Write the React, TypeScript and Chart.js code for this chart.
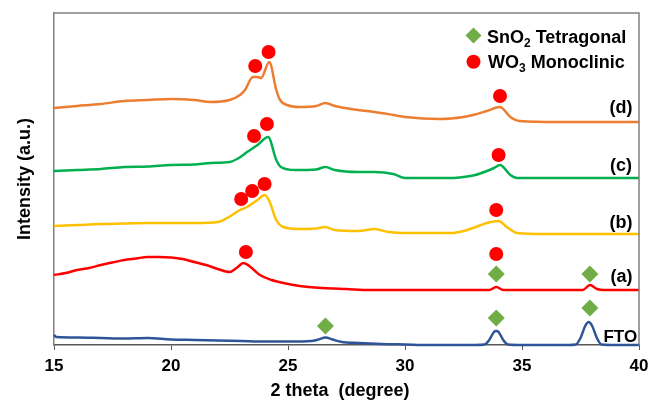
import { useEffect, useRef } from "react";
import { Chart, registerables } from "chart.js";

Chart.register(...registerables);

const FONT = '"Liberation Sans", Arial, sans-serif';

// X axis ticks (2 theta, degree)
const xTicks = [15, 20, 25, 30, 35, 40];

// FTO substrate (blue)
const ftoX = [15, 15.1, 16, 17, 18, 19, 20, 21, 22, 23, 24, 25, 26, 26.3, 26.6, 26.9, 27.3, 28, 29, 30, 31, 33, 33.4, 33.6, 33.8, 33.9, 34.0, 34.2, 34.4, 35, 37, 37.3, 37.5, 37.7, 37.85, 38.0, 38.2, 38.4, 39, 40];
const ftoY = [10, 8, 7.5, 7, 6.5, 7, 5.5, 5, 4.5, 4, 3.5, 3.5, 4, 5.5, 7.5, 5.5, 3, 2, 1, 0.5, 0, 0, 0.5, 5, 13, 14, 13, 5, 0.5, 0, 0, 0.5, 7, 19, 23, 19, 7, 0.5, 0, 0];

// (a) red
const aX = [15, 15.5, 16, 16.5, 17, 17.5, 18, 18.5, 19, 19.5, 20, 20.5, 21, 21.5, 22, 22.5, 22.8, 23.1, 23.4, 23.8, 24.3, 24.8, 25.5, 26.5, 27.5, 28.5, 33.6, 33.9, 34.2, 37.6, 37.9, 38.2, 38.5, 40];
const aY = [70, 72, 75, 77, 80, 82.5, 85, 86.5, 88, 88, 87.5, 86, 83, 80, 76, 73, 77, 82, 78, 70, 65, 62, 59, 57, 56, 55, 55, 58, 55, 55, 60, 56, 55, 55];

// (b) yellow
const bX = [15, 16, 17, 18, 19, 20, 21, 22, 22.4, 22.95, 23.25, 23.7, 24.0, 24.2, 24.5, 24.8, 25.5, 26.2, 26.6, 27, 28, 28.7, 29.3, 30, 32, 32.5, 32.9, 33.5, 34.0, 34.35, 34.8, 36, 40];
const bY = [119, 120, 121, 121.5, 122, 122, 122, 123, 127, 135, 138, 145, 150, 144, 125, 118, 116, 116.5, 118, 115, 114, 116, 113, 112, 112, 114, 117, 122, 124, 118, 112, 111, 111];

// (c) green
const cX = [15, 16, 17, 18, 19, 20, 21, 21.7, 22.5, 22.9, 23.25, 23.7, 24.15, 24.5, 24.7, 25.3, 26.2, 26.6, 27, 28, 28.7, 29.5, 30, 32, 32.5, 33, 33.5, 33.8, 34.06, 34.5, 34.8, 40];
const cY = [174, 175, 176, 178, 178.5, 180, 180.5, 182, 183, 187, 193, 200, 208, 185, 178, 175, 175.5, 178, 175, 173, 173, 171, 167, 167, 168, 170, 174, 177, 180, 170, 167, 167];

// (d) orange
const dX = [15, 16, 17, 18, 19, 20, 21, 21.7, 22.5, 22.95, 23.16, 23.5, 23.7, 23.85, 24.2, 24.5, 24.66, 24.96, 25.5, 26.2, 26.6, 27, 28, 28.7, 29.5, 30, 31.5, 32.5, 32.9, 33.5, 34.06, 34.5, 34.9, 36.6, 40];
const dY = [237, 239, 241, 244, 245, 246, 245, 243, 245, 250, 255, 268, 268, 267, 283, 255, 245, 240, 238, 239, 242, 239, 235, 233, 230, 228, 226, 228, 230, 234, 238, 228, 224, 223, 223];

// Phase markers
const wo3X = [24.17, 23.6, 34.06, 24.1, 23.55, 34.0, 23.0, 23.47, 24.0, 33.9, 23.2, 33.9];
const wo3Y = [293, 279, 249, 221, 209, 190, 146, 154, 161, 135, 93, 91];
const sno2X = [26.6, 33.9, 37.9, 33.9, 37.9];
const sno2Y = [19, 27, 37, 71, 71];

// Curve labels
const labelTexts = ["(d)", "(c)", "(b)", "(a)", "FTO"];
const labelX = [39.23, 39.23, 39.23, 39.25, 39.2];
const labelY = [237, 179, 122, 67.5, 7.5];

const pts = (xs: number[], ys: number[]) => xs.map((x, i) => ({ x, y: ys[i] }));

const overlay = {
  id: "overlay",
  afterDraw(chart: any) {
    const { ctx, chartArea: a, scales } = chart;
    const xs = scales.x;
    const ys = scales.y;
    ctx.save();
    // top & right frame
    ctx.strokeStyle = "#808080";
    ctx.lineWidth = 1.5;
    ctx.beginPath();
    ctx.moveTo(a.left, a.top);
    ctx.lineTo(a.right, a.top);
    ctx.lineTo(a.right, a.bottom);
    ctx.stroke();

    ctx.fillStyle = "#000";
    // curve labels
    ctx.textAlign = "center";
    ctx.textBaseline = "middle";
    labelTexts.forEach((t, i) => {
      ctx.font = t === "FTO" ? `bold 17px ${FONT}` : `bold 18px ${FONT}`;
      ctx.fillText(t, xs.getPixelForValue(labelX[i]), ys.getPixelForValue(labelY[i]));
    });

    // axis titles
    ctx.font = `bold 18px ${FONT}`;
    ctx.textBaseline = "alphabetic";
    ctx.textAlign = "center";
    ctx.fillText("2 theta  (degree)", 340, 396);
    ctx.save();
    ctx.translate(29.5, (a.top + a.bottom) / 2);
    ctx.rotate(-Math.PI / 2);
    ctx.fillText("Intensity (a.u.)", 0, 0);
    ctx.restore();

    // legend
    ctx.fillStyle = "#70AD47";
    ctx.beginPath();
    ctx.moveTo(473.5 - 8, 35.5);
    ctx.lineTo(473.5, 27.5);
    ctx.lineTo(473.5 + 8, 35.5);
    ctx.lineTo(473.5, 43.5);
    ctx.closePath();
    ctx.fill();
    ctx.fillStyle = "#FF0000";
    ctx.beginPath();
    ctx.arc(473.5, 61.7, 7, 0, Math.PI * 2);
    ctx.fill();

    ctx.fillStyle = "#000";
    ctx.textAlign = "left";
    const drawSub = (main: string, sub: string, rest: string, x: number, y: number) => {
      ctx.font = `bold 18px ${FONT}`;
      ctx.fillText(main, x, y);
      let cx = x + ctx.measureText(main).width;
      ctx.font = `bold 12px ${FONT}`;
      ctx.fillText(sub, cx, y + 3.5);
      cx += ctx.measureText(sub).width;
      ctx.font = `bold 18px ${FONT}`;
      ctx.fillText(rest, cx, y);
    };
    drawSub("SnO", "2", " Tetragonal", 487, 43.3);
    drawSub("WO", "3", " Monoclinic", 488, 68.3);
    ctx.restore();
  },
};

export default function App() {
  const ref = useRef<HTMLCanvasElement>(null);
  useEffect(() => {
    if (!ref.current) return;
    const line = (xs: number[], ys: number[], color: string) => ({
      type: "line" as const,
      data: pts(xs, ys),
      borderColor: color,
      backgroundColor: color,
      borderWidth: 2.5,
      pointRadius: 0,
      showLine: true,
      cubicInterpolationMode: "monotone" as const,
      clip: false as any,
      order: 1,
    });
    const chart = new Chart(ref.current, {
      type: "scatter",
      data: {
        datasets: [
          {
            label: "SnO2 Tetragonal",
            data: pts(sno2X, sno2Y),
            pointStyle: "rectRot",
            pointRadius: 8.5,
            pointBackgroundColor: "#70AD47",
            pointBorderWidth: 0,
            borderWidth: 0,
            showLine: false,
            order: 0,
          } as any,
          {
            label: "WO3 Monoclinic",
            data: pts(wo3X, wo3Y),
            pointStyle: "circle",
            pointRadius: 7,
            pointBackgroundColor: "#FF0000",
            pointBorderWidth: 0,
            borderWidth: 0,
            showLine: false,
            order: 0,
          } as any,
          { label: "(d)", ...line(dX, dY, "#ED7D31") } as any,
          { label: "(c)", ...line(cX, cY, "#00B050") } as any,
          { label: "(b)", ...line(bX, bY, "#FFC000") } as any,
          { label: "(a)", ...line(aX, aY, "#FF0000") } as any,
          { label: "FTO", ...line(ftoX, ftoY, "#2F5597") } as any,
        ],
      },
      options: {
        responsive: false,
        animation: false,
        devicePixelRatio: 1,
        layout: { padding: { top: 13, right: 9, left: 0, bottom: 0 } },
        plugins: { legend: { display: false }, tooltip: { enabled: false } },
        scales: {
          x: {
            type: "linear",
            min: 15,
            max: 40,
            afterBuildTicks: (s: any) => {
              s.ticks = xTicks.map((v) => ({ value: v }));
            },
            afterFit: (s: any) => {
              s.height = 55;
              s.paddingLeft = 0;
              s.paddingRight = 0;
            },
            ticks: {
              color: "#000",
              padding: 6,
              font: { family: FONT, size: 17, weight: "bold" },
              maxRotation: 0,
            },
            grid: {
              display: true,
              drawOnChartArea: false,
              drawTicks: true,
              tickLength: 5,
              color: "#595959",
            },
            border: { display: true, color: "#595959", width: 1.5 },
          },
          y: {
            type: "linear",
            min: 0,
            max: 332,
            afterFit: (s: any) => {
              s.width = 54;
              s.paddingTop = 0;
              s.paddingBottom = 0;
            },
            ticks: { display: false },
            grid: { display: false },
            border: { display: true, color: "#808080", width: 1.5 },
          },
        },
      } as any,
      plugins: [overlay],
    });
    return () => chart.destroy();
  }, []);
  return (
    <div style={{ position: "absolute", left: 0, top: 0, width: 648, height: 400, background: "#fff" }}>
      <canvas ref={ref} width={648} height={400} />
    </div>
  );
}
